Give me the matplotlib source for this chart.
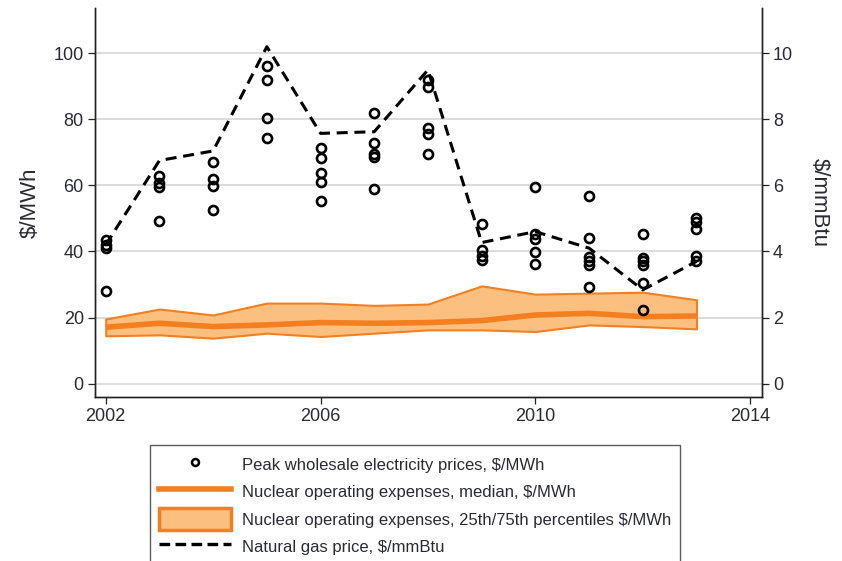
import numpy as np
import matplotlib
matplotlib.use("Agg")
import matplotlib.pyplot as plt
import matplotlib.patches as patches
from matplotlib.lines import Line2D

plt.rcParams['font.family'] = ['Liberation Sans', 'DejaVu Sans']

years = [2002, 2003, 2004, 2005, 2006, 2007, 2008, 2009, 2010, 2011, 2012, 2013]

# peak wholesale electricity prices by region, $/MWh
peak_prices = {
    2002: [43.5, 42.0, 41.0, 28.2],
    2003: [62.8, 60.8, 59.4, 49.2],
    2004: [66.9, 61.9, 59.9, 52.6],
    2005: [96.1, 91.8, 80.3, 74.2],
    2006: [71.2, 68.2, 63.8, 61.1, 55.3],
    2007: [82.0, 72.9, 69.5, 68.7, 59.0],
    2008: [91.8, 89.8, 77.2, 75.4, 69.6],
    2009: [48.3, 40.5, 38.7, 37.5],
    2010: [59.4, 45.2, 43.7, 39.8, 36.3],
    2011: [56.8, 44.2, 38.3, 37.0, 36.0, 29.2],
    2012: [45.2, 38.0, 37.0, 35.8, 30.4, 22.4],
    2013: [50.1, 48.9, 46.7, 38.5, 37.0],
}

nuclear_median = [17.1, 18.3, 17.3, 17.8, 18.5, 18.3, 18.5, 19.1, 20.8, 21.3, 20.3, 20.5]
nuclear_p75 = [19.6, 22.6, 20.8, 24.4, 24.4, 23.7, 24.1, 29.6, 27.1, 27.4, 27.7, 25.4]
nuclear_p25 = [14.5, 14.8, 13.8, 15.3, 14.3, 15.3, 16.3, 16.3, 15.8, 17.8, 17.3, 16.6]

gas_price = [4.2, 6.75, 7.04, 10.19, 7.57, 7.62, 9.49, 4.27, 4.6, 4.1, 2.84, 3.7]

left_ticks = [0, 20, 40, 60, 80, 100]
right_ticks = [0, 2, 4, 6, 8, 10]
x_ticks = [2002, 2006, 2010, 2014]

orange = '#f47f20'
light_orange = '#fbbf80'
ink = '#2a2a35'

fig = plt.figure(figsize=(8.42, 5.61), dpi=100)
ax = fig.add_axes([0.1128, 0.2923, 0.7922, 0.6934])
ax2 = ax.twinx()

ylo, yhi = -4.0, 113.6
ax.set_xlim(2001.8, 2014.22)
ax.set_ylim(ylo, yhi)
ax2.set_ylim(ylo / 10, yhi / 10)

for t in left_ticks:
    ax.axhline(t, color='#d9d9d9', lw=1.3, zorder=0)

ax.fill_between(years, nuclear_p25, nuclear_p75, facecolor=light_orange,
                edgecolor=orange, lw=1.5, zorder=2)
ax.plot(years, nuclear_median, color=orange, lw=4, solid_capstyle='butt', zorder=3)

px = [y for y in years for _ in peak_prices[y]]
py = [v for y in years for v in peak_prices[y]]
ax.plot(px, py, ls='none', marker='o', ms=6.5, mfc='none', mec='black',
        mew=1.9, zorder=4)

ax2.plot(years, gas_price, color='black', lw=2.2, dashes=(3.6, 2.2), zorder=5)

ax.set_xticks(x_ticks)
ax.set_yticks(left_ticks)
ax2.set_yticks(right_ticks)

for a in (ax, ax2):
    a.spines['top'].set_visible(False)
    for s in a.spines.values():
        s.set_color('#222222')
        s.set_linewidth(1.0)
    a.tick_params(labelsize=13, colors='#222222', labelcolor=ink,
                  length=5, width=0.9, pad=3)

ax.set_ylabel('$/MWh', fontsize=16, color=ink, labelpad=9)
ax2.set_ylabel('$/mmBtu', fontsize=16, color=ink, rotation=270,
               labelpad=26)

handles = [
    Line2D([], [], ls='none', marker='o', ms=5, mfc='none', mec='black', mew=1.8),
    Line2D([], [], color=orange, lw=4),
    patches.Patch(facecolor=light_orange, edgecolor=orange, lw=2.5),
    Line2D([], [], color='black', lw=2.4, dashes=(3.2, 1.6)),
]
labels = [
    'Peak wholesale electricity prices, $/MWh',
    'Nuclear operating expenses, median, $/MWh',
    'Nuclear operating expenses, 25th/75th percentiles $/MWh',
    'Natural gas price, $/mmBtu',
]
leg = fig.legend(handles, labels, loc='upper left',
                 bbox_to_anchor=(150 / 842, 1 - 445 / 561),
                 fontsize=12, frameon=True, fancybox=False,
                 edgecolor='#333333', handlelength=4.3, handleheight=1.6,
                 handletextpad=0.66, labelspacing=0.34, borderpad=0.55,
                 borderaxespad=0)
leg.get_frame().set_linewidth(1.0)
for txt in leg.get_texts():
    txt.set_color(ink)

fig.savefig('out.png', dpi=100)
